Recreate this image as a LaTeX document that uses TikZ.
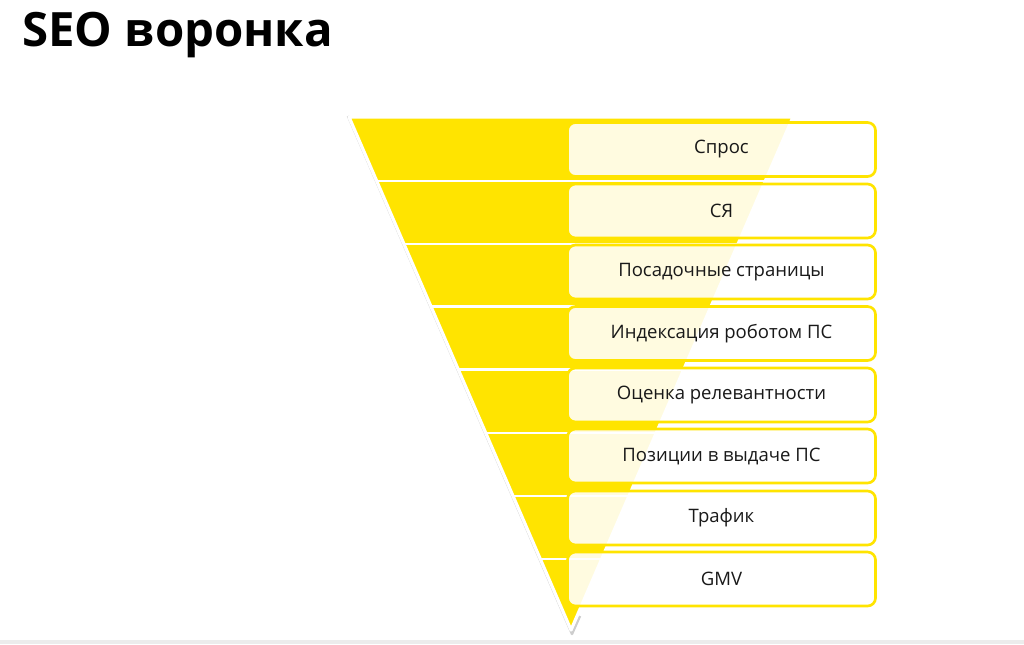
\documentclass[tikz,border=0pt]{standalone}
\usepackage{fontspec}
\setmainfont{Open Sans}
\definecolor{fy}{RGB}{255,228,0}
\definecolor{shadowgray}{RGB}{205,205,205}
\definecolor{stripgray}{RGB}{236,236,236}
\begin{document}
\begin{tikzpicture}[x=0.75pt,y=-0.75pt,
  stagebox/.style={draw=fy, line width=2pt, rounded corners=6pt, fill=white, fill opacity=0.88, text opacity=1,
    minimum width=231pt, minimum height=40.5pt, inner sep=0pt, font=\fontsize{13.9}{15}\selectfont, text=black!90},
  ]
\useasboundingbox (0,0) rectangle (1024,644);
\fill[white] (0,0) rectangle (1024,644);
\fill[stripgray] (0,640) rectangle (1024,644);
% title
\node[anchor=base west, inner sep=0pt, font=\fontsize{35.5}{38}\selectfont\bfseries] (title) at (22,46) {SEO воронка};
% funnel shadow and outline
\draw[shadowgray, line width=1.8pt, line join=round] (348,116) -- (572,634) -- (580,616);
\draw[white, line width=2.4pt, line join=round, fill=fy] (349,117) -- (793,117) -- (571,630) -- cycle;
% band separators
\begin{scope}
\clip (349,117) -- (793,117) -- (571,630) -- cycle;
\foreach \yy in {181,244,306.5,369.5,433,496,559}
  \draw[white, line width=2.2pt] (340,\yy) -- (800,\yy);
\end{scope}
% boxes
\node[stagebox] (b1) at (721.5,149.5) {Спрос};
\node[stagebox] (b2) at (721.5,211) {СЯ};
\node[stagebox] (b3) at (721.5,272) {Посадочные страницы};
\node[stagebox] (b4) at (721.5,333.5) {Индексация роботом ПС};
\node[stagebox] (b5) at (721.5,395) {Оценка релевантности};
\node[stagebox] (b6) at (721.5,456) {Позиции в выдаче ПС};
\node[stagebox] (b7) at (721.5,518) {Трафик};
\node[stagebox] (b8) at (721.5,579) {GMV};
\end{tikzpicture}
\end{document}
